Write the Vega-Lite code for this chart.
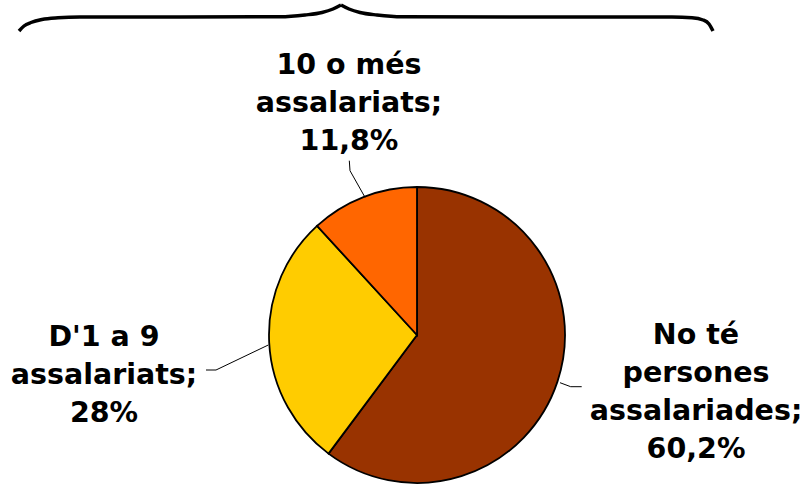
{
  "$schema": "https://vega.github.io/schema/vega-lite/v6.json",
  "width": 807,
  "height": 485,
  "autosize": {"type": "none"},
  "padding": 0,
  "background": "white",
  "config": {"view": {"stroke": null}},
  "datasets": {
    "pie": [
      {"cat": "No té persones assalariades", "value": 60.2, "label": "No té\npersones\nassalariades;\n60,2%"},
      {"cat": "D'1 a 9 assalariats", "value": 28, "label": "D'1 a 9\nassalariats;\n28%"},
      {"cat": "10 o més assalariats", "value": 11.8, "label": "10 o més\nassalariats;\n11,8%"}
    ],
    "brace": [
      {"part": "L", "x": 19, "y": 31}, {"part": "L", "x": 24, "y": 26}, {"part": "L", "x": 31, "y": 22.5},
      {"part": "L", "x": 42, "y": 19.5}, {"part": "L", "x": 58, "y": 17.8}, {"part": "L", "x": 80, "y": 17},
      {"part": "L", "x": 280, "y": 16.8}, {"part": "L", "x": 305, "y": 15}, {"part": "L", "x": 322, "y": 12.5},
      {"part": "L", "x": 333, "y": 9}, {"part": "L", "x": 341, "y": 5},
      {"part": "R", "x": 341, "y": 5}, {"part": "R", "x": 349, "y": 9}, {"part": "R", "x": 360, "y": 12.5},
      {"part": "R", "x": 377, "y": 15}, {"part": "R", "x": 402, "y": 16.8}, {"part": "R", "x": 672, "y": 17},
      {"part": "R", "x": 692, "y": 17.8}, {"part": "R", "x": 703, "y": 20}, {"part": "R", "x": 709, "y": 24},
      {"part": "R", "x": 713, "y": 31}
    ],
    "leaders": [
      {"id": "t", "x": 349.3, "y": 160.7}, {"id": "t", "x": 350, "y": 170.7}, {"id": "t", "x": 365, "y": 197.3},
      {"id": "l", "x": 206, "y": 370}, {"id": "l", "x": 216, "y": 370}, {"id": "l", "x": 268.3, "y": 345},
      {"id": "r", "x": 560, "y": 382.7}, {"id": "r", "x": 570.7, "y": 386.7}, {"id": "r", "x": 581.7, "y": 386.7}
    ]
  },
  "layer": [
    {
      "data": {"name": "pie"},
      "mark": {"type": "arc", "outerRadius": 148, "stroke": "black", "strokeWidth": 1.8},
      "encoding": {
        "x": {"datum": 417, "type": "quantitative", "scale": {"domain": [0, 807], "nice": false, "zero": false}, "axis": null},
        "y": {"datum": 335, "type": "quantitative", "scale": {"domain": [0, 485], "nice": false, "zero": false, "reverse": true}, "axis": null},
        "theta": {"field": "value", "type": "quantitative", "stack": true},
        "order": {"field": "cat", "type": "ordinal", "sort": "descending"},
        "color": {
          "field": "cat", "type": "nominal", "legend": null,
          "scale": {"domain": ["No té persones assalariades", "D'1 a 9 assalariats", "10 o més assalariats"], "range": ["#993300", "#FFCC00", "#FF6600"]}
        }
      }
    },
    {
      "data": {"name": "pie"},
      "mark": {
        "type": "text", "font": "DejaVu Sans", "fontWeight": "bold", "fontSize": 28.5,
        "lineBreak": "\n", "lineHeight": 38, "align": "center", "baseline": "middle", "color": "black",
        "radius": {"expr": "datum.value > 50 ? 279 : datum.value > 20 ? 313 : 278.4"},
        "thetaOffset": {"expr": "datum.value > 50 ? -0.3204 : datum.value > 20 ? 0.0438 : 0.1239"}
      },
      "encoding": {
        "x": {"datum": 417, "type": "quantitative"},
        "y": {"datum": 335, "type": "quantitative"},
        "theta": {"field": "value", "type": "quantitative", "stack": true},
        "order": {"field": "cat", "type": "ordinal", "sort": "descending"},
        "text": {"field": "label"}
      }
    },
    {
      "data": {"name": "leaders"},
      "mark": {"type": "line", "stroke": "black", "strokeWidth": 1},
      "encoding": {
        "x": {"field": "x", "type": "quantitative"},
        "y": {"field": "y", "type": "quantitative"},
        "detail": {"field": "id"}
      }
    },
    {
      "data": {"name": "brace"},
      "mark": {"type": "line", "stroke": "black", "strokeWidth": 3.5, "interpolate": "monotone"},
      "encoding": {
        "x": {"field": "x", "type": "quantitative"},
        "y": {"field": "y", "type": "quantitative"},
        "detail": {"field": "part"}
      }
    }
  ]
}
